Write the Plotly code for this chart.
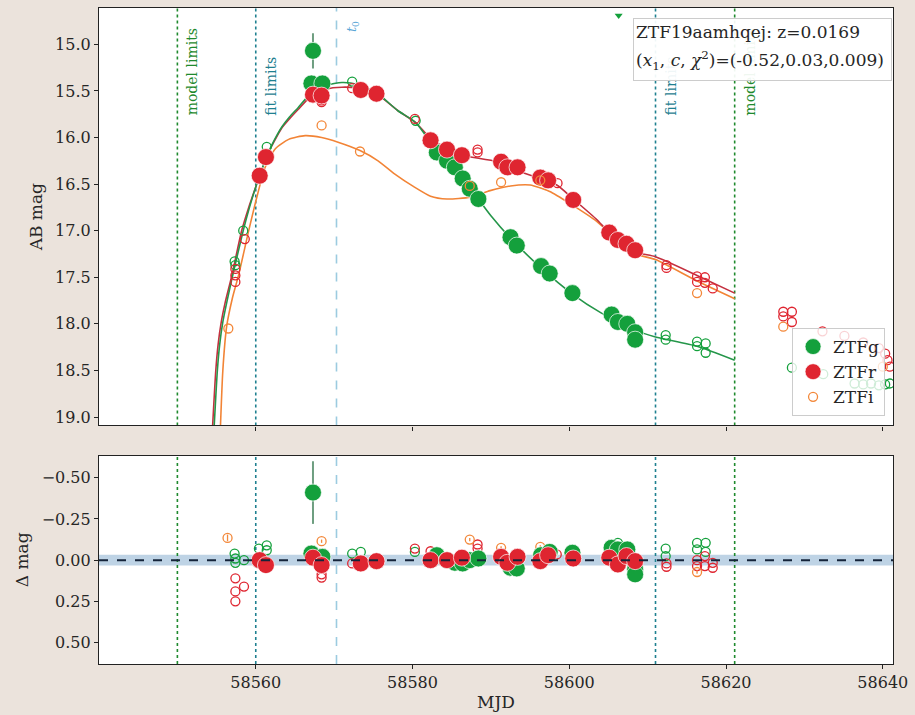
import plotly.graph_objects as go

# ---------------- data ----------------
# ZTFg points used in the fit (filled)
g_mjd = [58567.3, 58567.1, 58568.5, 58583.1, 58584.4, 58585.4, 58586.4, 58587.3, 58588.4,
         58592.5, 58593.3, 58596.4, 58597.5, 58600.4, 58605.4, 58606.2, 58607.4, 58608.4, 58608.4]
g_mag = [15.07, 15.42, 15.42, 16.16, 16.25, 16.32, 16.44, 16.55, 16.66,
         17.07, 17.16, 17.38, 17.46, 17.67, 17.90, 17.98, 18.00, 18.09, 18.17]
g_err = [0.19, 0.02, 0.02, 0.02, 0.02, 0.02, 0.02, 0.02, 0.02,
         0.02, 0.02, 0.02, 0.02, 0.02, 0.02, 0.02, 0.02, 0.02, 0.02]
g_res = [-0.41, -0.04, -0.02, -0.03, 0.0, 0.016, 0.02, 0.0, -0.01,
         0.046, 0.05, -0.03, -0.05, -0.045, -0.075, -0.065, -0.065, 0.056, 0.086]

# ZTFr points used in the fit (filled)
r_mjd = [58560.5, 58561.3, 58567.3, 58568.4, 58573.4, 58575.4, 58582.3, 58584.4, 58586.3, 58591.3,
         58592.1, 58593.4, 58596.3, 58597.3, 58600.5, 58605.1, 58606.2, 58607.3, 58608.4]
r_mag = [16.41, 16.21, 15.54, 15.55, 15.49, 15.53, 16.03, 16.13, 16.19, 16.26,
         16.32, 16.32, 16.43, 16.46, 16.67, 17.02, 17.10, 17.14, 17.21]
r_res = [0.0, 0.03, -0.015, 0.03, 0.02, 0.006, 0.0, 0.0, -0.015, -0.02,
         0.016, -0.02, 0.006, -0.03, -0.01, -0.015, 0.026, -0.025, 0.006]

# points not used in the fit (open)
go_mjd = [58557.3, 58557.4, 58558.4, 58560.4, 58561.4, 58572.3, 58580.4, 58612.3, 58612.3, 58616.3,
          58616.3, 58617.4, 58617.4, 58628.4, 58632.4, 58636.4, 58637.5, 58638.5, 58639.5, 58640.3, 58640.9]
go_mag = [17.33, 17.37, 17.00, 16.40, 16.10, 15.40, 15.82, 18.12, 18.17, 18.19,
          18.24, 18.21, 18.31, 18.47, 18.54, 18.64, 18.65, 18.64, 18.66, 18.65, 18.64]
ro_mjd = [58557.4, 58557.4, 58557.4, 58558.6, 58568.4, 58568.4, 58572.3, 58580.3, 58588.3, 58588.3,
          58598.5, 58612.4, 58612.4, 58616.3, 58616.3, 58617.3, 58617.3, 58618.3, 58627.3, 58628.4,
          58627.3, 58628.4, 58632.3, 58635.1, 58637.5, 58639.5, 58640.3, 58640.6, 58640.9]
ro_mag = [17.41, 17.48, 17.55, 17.09, 15.60, 15.62, 15.47, 15.80, 16.13, 16.16,
          16.49, 17.37, 17.40, 17.49, 17.55, 17.50, 17.56, 17.62, 17.87, 17.87,
          17.92, 17.98, 18.08, 18.13, 18.20, 18.26, 18.32, 18.39, 18.46]
io_mjd = [58556.5, 58568.4, 58573.3, 58587.3, 58591.3, 58596.3, 58616.3, 58627.3, 58640.0]
io_mag = [18.05, 15.87, 16.15, 16.52, 16.48, 16.46, 17.67, 18.03, 18.46]

# residuals of the open points (inside model range)
go_res_mjd = [58557.3, 58557.4, 58558.5, 58557.4, 58560.4, 58561.4, 58561.4, 58572.3, 58573.4,
              58580.3, 58606.2, 58612.3, 58612.3, 58616.3, 58616.3, 58617.4, 58617.4]
go_res = [-0.04, 0.016, 0.0, -0.01, -0.07, -0.09, -0.06, -0.04, -0.05,
          -0.05, -0.105, -0.07, -0.025, -0.105, -0.065, -0.105, -0.05]
ro_res_mjd = [58557.4, 58557.4, 58557.4, 58558.5, 58568.4, 58568.4, 58572.3, 58580.3, 58582.3, 58588.3,
              58588.3, 58598.4, 58612.4, 58612.4, 58616.3, 58616.3, 58617.3, 58617.3, 58618.3, 58618.3]
ro_res = [0.11, 0.19, 0.25, 0.16, 0.086, 0.106, 0.02, -0.07, -0.054, -0.095,
          -0.07, -0.035, 0.02, 0.04, 0.0, 0.036, -0.025, 0.036, 0.016, 0.046]
io_res_mjd = [58556.4, 58568.4, 58587.3, 58591.3, 58596.3, 58616.3]
io_res = [-0.135, -0.115, -0.125, -0.075, -0.08, 0.072]
io_res_err = [0.02, 0.01, 0.01, 0.01, 0.01, 0.01]

# model light curves
gm_mjd = [58554.7, 58555.1, 58555.4, 58555.8, 58556.3, 58557.0, 58558.4, 58559.2, 58560.0, 58560.5,
          58561.3, 58562.3, 58563.3, 58564.3, 58565.4, 58567.0, 58569.0, 58571.0, 58573.0, 58575.4,
          58578.1, 58580.4, 58583.1, 58584.4, 58585.4, 58586.4, 58587.3, 58588.4, 58590.0, 58592.5,
          58596.4, 58600.4, 58604.0, 58608.4, 58611.0, 58616.3, 58621.1]
gm_mag = [19.09, 18.50, 18.22, 17.98, 17.77, 17.50, 17.00, 16.75, 16.53, 16.41,
          16.22, 16.04, 15.89, 15.78, 15.68, 15.53, 15.44, 15.41, 15.43, 15.52,
          15.71, 15.84, 16.14, 16.25, 16.33, 16.43, 16.53, 16.66, 16.84, 17.08,
          17.40, 17.68, 17.88, 18.07, 18.14, 18.24, 18.39]
rm_mjd = [58554.5, 58554.9, 58555.2, 58555.6, 58556.1, 58556.9, 58558.2, 58559.1, 58560.0, 58560.5,
          58561.3, 58562.3, 58563.3, 58564.3, 58565.4, 58567.0, 58569.0, 58571.0, 58573.0, 58575.4,
          58578.1, 58580.4, 58582.3, 58584.4, 58586.3, 58590.8, 58594.2, 58598.4, 58600.5, 58603.5,
          58605.1, 58608.5, 58611.0, 58616.3, 58621.1]
rm_mag = [19.09, 18.50, 18.22, 17.98, 17.77, 17.50, 17.00, 16.75, 16.53, 16.41,
          16.22, 16.05, 15.90, 15.80, 15.70, 15.56, 15.48, 15.46, 15.47, 15.53,
          15.71, 15.84, 16.01, 16.12, 16.19, 16.26, 16.38, 16.51, 16.66, 16.88,
          17.02, 17.23, 17.28, 17.48, 17.67]
im_mjd = [58555.5, 58555.8, 58556.3, 58557.0, 58557.8, 58559.1, 58560.2, 58561.2, 58562.5, 58564.2,
          58566.3, 58568.4, 58570.5, 58573.3, 58575.6, 58577.7, 58580.2, 58582.3, 58584.4, 58587.4,
          58589.9, 58592.5, 58595.0, 58597.5, 58600.1, 58603.5, 58605.5, 58608.5, 58611.0, 58616.3,
          58621.1]
im_mag = [19.09, 18.50, 18.02, 17.73, 17.48, 17.00, 16.62, 16.32, 16.12, 16.02,
          15.98, 16.00, 16.05, 16.14, 16.25, 16.39, 16.53, 16.63, 16.66, 16.64,
          16.57, 16.52, 16.51, 16.58, 16.71, 16.90, 17.05, 17.25, 17.31, 17.54,
          17.73]

model_limits = [58550.0, 58621.1]
fit_limits = [58560.0, 58611.0]
t0 = 58570.3
peak_marker_mjd = [58606.3]
peak_marker_mag = [14.69]

obj_name = "ZTF19aamhqej"
redshift = "0.0169"
fit_params = "(-0.52,0.03,0.009)"
band_names = ["ZTFg", "ZTFr", "ZTFi"]

# ---------------- styling ----------------
FONT = "DejaVu Serif"
BG = "#ebe3dc"
GREEN = "#14a03c"
RED = "#df2530"
ORANGE = "#f3883a"
GREEN_L = "#25964a"
RED_L = "#c4303f"
ORANGE_L = "#f28436"
MODEL_C = "#1f8a2e"
FIT_C = "#1f8090"
T0_C = "#9ccbe0"
TXT = "#262626"

fig = go.Figure()

# model curves
for mx, my, col in [(im_mjd, im_mag, ORANGE_L), (rm_mjd, rm_mag, RED_L), (gm_mjd, gm_mag, GREEN_L)]:
    fig.add_trace(go.Scatter(x=mx, y=my, mode="lines",
                             line=dict(color=col, width=1.6, shape="spline", smoothing=0.6),
                             showlegend=False, hoverinfo="skip", xaxis="x", yaxis="y"))


def open_pts(x, y, col, xa, ya, err=None, show=False, name=None):
    return go.Scatter(x=x, y=y, mode="markers", name=name, showlegend=show,
                      marker=dict(symbol="circle-open", size=9, color=col, line=dict(width=1.3, color=col)),
                      error_y=(dict(type="data", array=err, color=col, thickness=1.3, width=0) if err else None),
                      xaxis=xa, yaxis=ya, hoverinfo="skip")


fig.add_trace(open_pts(go_mjd, go_mag, GREEN, "x", "y"))
fig.add_trace(open_pts(ro_mjd, ro_mag, RED, "x", "y"))

# filled points top
fig.add_trace(go.Scatter(x=g_mjd, y=g_mag, mode="markers", name=band_names[0], legendgroup="g",
                         marker=dict(size=17, color=GREEN, line=dict(width=1, color="rgba(255,255,255,0.7)")),
                         error_y=dict(type="data", array=g_err, color="#6e9e80", thickness=2, width=0),
                         xaxis="x", yaxis="y", legendrank=1))
fig.add_trace(go.Scatter(x=r_mjd, y=r_mag, mode="markers", name=band_names[1], legendgroup="r",
                         marker=dict(size=17, color=RED, line=dict(width=1, color="rgba(255,255,255,0.7)")),
                         xaxis="x", yaxis="y", legendrank=2))
fig.add_trace(go.Scatter(x=io_mjd, y=io_mag, mode="markers", name=band_names[2], legendrank=3, legendgroup="i",
                         marker=dict(symbol="circle-open", size=9, color=ORANGE, line=dict(width=1.3, color=ORANGE)),
                         xaxis="x", yaxis="y"))

fig.add_trace(go.Scatter(x=peak_marker_mjd, y=peak_marker_mag, mode="markers", showlegend=False,
                         marker=dict(symbol="triangle-down", size=7, color=GREEN), xaxis="x", yaxis="y",
                         cliponaxis=False))

# residual panel
fig.add_trace(open_pts(go_res_mjd, go_res, GREEN, "x2", "y2"))
fig.add_trace(open_pts(ro_res_mjd, ro_res, RED, "x2", "y2"))
fig.add_trace(open_pts(io_res_mjd, io_res, ORANGE, "x2", "y2", err=io_res_err))
fig.add_trace(go.Scatter(x=g_mjd, y=g_res, mode="markers", showlegend=False,
                         marker=dict(size=17, color=GREEN, line=dict(width=1, color="rgba(255,255,255,0.7)")),
                         error_y=dict(type="data", array=g_err, color="#6e9e80", thickness=2, width=0),
                         xaxis="x2", yaxis="y2"))
fig.add_trace(go.Scatter(x=r_mjd, y=r_res, mode="markers", showlegend=False,
                         marker=dict(size=17, color=RED, line=dict(width=1, color="rgba(255,255,255,0.7)")),
                         xaxis="x2", yaxis="y2"))

shapes = []
shapes.append(dict(type="rect", xref="x2 domain", yref="y2", x0=0, x1=1, y0=-0.033, y1=0.033,
                   fillcolor="rgba(70,130,180,0.35)", line=dict(width=0), layer="below"))
shapes.append(dict(type="line", xref="x2 domain", yref="y2", x0=0, x1=1, y0=0, y1=0,
                   line=dict(color="#15243a", width=2, dash="dash"), layer="above"))
for ax in ["", "2"]:
    for v in model_limits:
        shapes.append(dict(type="line", xref="x" + ax, yref=f"y{ax} domain", x0=v, x1=v, y0=0, y1=1,
                           line=dict(color=MODEL_C, width=1.6, dash="dot"), layer="below"))
    for v in fit_limits:
        shapes.append(dict(type="line", xref="x" + ax, yref=f"y{ax} domain", x0=v, x1=v, y0=0, y1=1,
                           line=dict(color=FIT_C, width=1.6, dash="dot"), layer="below"))
    shapes.append(dict(type="line", xref="x" + ax, yref=f"y{ax} domain", x0=t0, x1=t0, y0=0, y1=1,
                       line=dict(color=T0_C, width=1.6, dash="dash"), layer="below"))

annotations = []
for v in model_limits:
    annotations.append(dict(x=v, y=15.785, xref="x", yref="y", text="model limits", textangle=-90,
                            showarrow=False, xanchor="left", yanchor="bottom", xshift=5,
                            font=dict(family=FONT, size=14, color=MODEL_C)))
for v in fit_limits:
    annotations.append(dict(x=v, y=15.785, xref="x", yref="y", text="fit limits", textangle=-90,
                            showarrow=False, xanchor="left", yanchor="bottom", xshift=5,
                            font=dict(family=FONT, size=14, color=FIT_C)))
annotations.append(dict(x=t0, y=14.885, xref="x", yref="y", text="<i>t</i><sub>0</sub>", textangle=-90,
                        showarrow=False, xanchor="left", yanchor="bottom", xshift=5,
                        font=dict(family=FONT, size=13, color="#5aa6d6")))
# info box (drawn on top of the limit labels)
annotations.append(dict(x=0.672, y=0.9848, xref="paper", yref="paper", xanchor="left", yanchor="top",
                        showarrow=False, text=" ", width=257, height=61, borderpad=0,
                        bgcolor="rgba(255,255,255,0.93)", bordercolor="#cccccc", borderwidth=1))
annotations.append(dict(x=0.674, y=0.964, xref="paper", yref="paper", xanchor="left", yanchor="middle",
                        showarrow=False, text=f"{obj_name}: z={redshift}",
                        font=dict(family=FONT, size=17, color=TXT)))
annotations.append(dict(x=0.674, y=0.9195, xref="paper", yref="paper", xanchor="left", yanchor="middle",
                        showarrow=False,
                        text=f"(<i>x</i><sub>1</sub>, <i>c</i>, <i>χ</i><sup>2</sup>)={fit_params}",
                        font=dict(family=FONT, size=17, color=TXT)))

axis_common = dict(showline=True, linecolor="#222222", linewidth=1.2, mirror=True, ticks="outside",
                   ticklen=4, tickcolor="#222222", showgrid=False, zeroline=False,
                   tickfont=dict(family=FONT, size=16, color=TXT))

fig.update_layout(
    width=915, height=715,
    paper_bgcolor=BG, plot_bgcolor="white",
    margin=dict(l=99, r=17, t=7, b=50),
    font=dict(family=FONT, color=TXT),
    xaxis=dict(domain=[0, 1], range=[58540.0, 58641.3], anchor="y", showticklabels=False,
               tickvals=[58560, 58580, 58600, 58620, 58640], **axis_common),
    yaxis=dict(domain=[0.3637, 1], range=[19.09, 14.61], anchor="x", tickformat=".1f",
               tickvals=[15.0, 15.5, 16.0, 16.5, 17.0, 17.5, 18.0, 18.5, 19.0],
               title=dict(text="AB mag", font=dict(family=FONT, size=17, color=TXT), standoff=8),
               **axis_common),
    xaxis2=dict(domain=[0, 1], range=[58540.0, 58641.3], anchor="y2", matches="x",
                tickvals=[58560, 58580, 58600, 58620, 58640], tickformat="d",
                title=dict(text="MJD", font=dict(family=FONT, size=17, color=TXT), standoff=4),
                **axis_common),
    yaxis2=dict(domain=[0, 0.3176], range=[0.63, -0.634], anchor="x2", tickformat=".2f",
                tickvals=[-0.5, -0.25, 0.0, 0.25, 0.5],
                title=dict(text="Δ mag", font=dict(family=FONT, size=17, color=TXT), standoff=8),
                **axis_common),
    shapes=shapes, annotations=annotations,
    legend=dict(x=0.99, y=0.378, xanchor="right", yanchor="bottom", bgcolor="rgba(255,255,255,0.8)",
                bordercolor="#cccccc", borderwidth=1, font=dict(family=FONT, size=17, color=TXT),
                itemsizing="trace", tracegroupgap=0, entrywidth=72, entrywidthmode="pixels"),
    showlegend=True,
)

fig.write_html("out.html")
